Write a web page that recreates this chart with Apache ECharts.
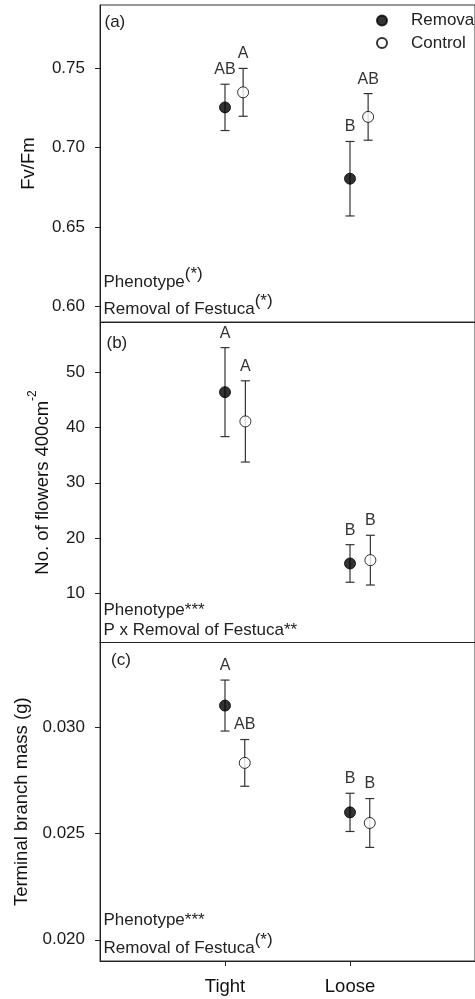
<!DOCTYPE html>
<html><head><meta charset="utf-8">
<script src="https://cdn.jsdelivr.net/npm/echarts@6/dist/echarts.min.js"></script>
<style>html,body{margin:0;padding:0;background:#fff}#c{width:475px;height:999px}</style>
</head><body><div id="c"></div>
<script>
// ---------- data ----------
const categories = ['Tight', 'Loose'];
const seriesNames = ['Removal', 'Control'];

// (a) Fv/Fm
const fvfmRemovalMean = [0.7254, 0.6804];
const fvfmRemovalSE   = [0.0146, 0.0235];
const fvfmControlMean = [0.7349, 0.7194];
const fvfmControlSE   = [0.0151, 0.0147];
const fvfmRemovalLetters = ['AB', 'B'];
const fvfmControlLetters = ['A', 'AB'];
const fvfmTicks = [0.60, 0.65, 0.70, 0.75];

// (b) No. of flowers
const flowerRemovalMean = [46.4, 15.4];
const flowerRemovalSE   = [8.05, 3.4];
const flowerControlMean = [41.1, 16.0];
const flowerControlSE   = [7.35, 4.5];
const flowerRemovalLetters = ['A', 'B'];
const flowerControlLetters = ['A', 'B'];
const flowerTicks = [10, 20, 30, 40, 50];

// (c) Terminal branch mass
const massRemovalMean = [0.03103, 0.0260];
const massRemovalSE   = [0.0012, 0.0009];
const massControlMean = [0.02833, 0.0255];
const massControlSE   = [0.0011, 0.00115];
const massRemovalLetters = ['A', 'B'];
const massControlLetters = ['AB', 'B'];
const massTicks = [0.020, 0.025, 0.030];

// panel texts
const panelLabels = ['(a)', '(b)', '(c)'];
const fvfmNotes   = [['Phenotype', '(*)'], ['Removal of Festuca', '(*)']];
const flowerNotes = [['Phenotype***', ''], ['P x Removal of Festuca**', '']];
const massNotes   = [['Phenotype***', ''], ['Removal of Festuca', '(*)']];

// ---------- layout / style ----------
const FONT = '"Liberation Sans", Arial, Helvetica, sans-serif';
const panels = [
  { top: 5, height: 317, min: 0.59, max: 0.79, dec: 2, offset: 0.145, nameGap: 62,
    name: 'Fv/Fm', ticks: fvfmTicks,
    rm: fvfmRemovalMean, rse: fvfmRemovalSE, cm: fvfmControlMean, cse: fvfmControlSE,
    rl: fvfmRemovalLetters, cl: fvfmControlLetters, notes: fvfmNotes,
    labelPos: [104.5, 22.5], noteBase: [288, 315] },
  { top: 322.5, height: 320, min: 1.1, max: 59, dec: 0, offset: 0.163, nameGap: 48,
    name: '{m|No. of flowers 400cm}{s|-2}', ticks: flowerTicks,
    rm: flowerRemovalMean, rse: flowerRemovalSE, cm: flowerControlMean, cse: flowerControlSE,
    rl: flowerRemovalLetters, cl: flowerControlLetters, notes: flowerNotes,
    labelPos: [106.5, 343.5], noteBase: [616, 636] },
  { top: 642.5, height: 318.5, min: 0.019, max: 0.034, dec: 3, offset: 0.158, nameGap: 68,
    name: 'Terminal branch mass (g)', ticks: massTicks,
    rm: massRemovalMean, rse: massRemovalSE, cm: massControlMean, cse: massControlSE,
    rl: massRemovalLetters, cl: massControlLetters, notes: massNotes,
    labelPos: [111, 660.5], noteBase: [926.5, 954] }
];

const grids = [], xAxes = [], yAxes = [], series = [], graphics = [];

function errRender(letters) {
  return function (params, api) {
    const x = api.value(0), m = api.value(1), se = api.value(2);
    const p = api.coord([x, m + se]);
    const q = api.coord([x, m - se]);
    const st = { stroke: '#333', lineWidth: 1.2 };
    return {
      type: 'group',
      children: [
        { type: 'line', shape: { x1: p[0], y1: p[1], x2: q[0], y2: q[1] }, style: st },
        { type: 'line', shape: { x1: p[0] - 4.5, y1: p[1], x2: p[0] + 4.5, y2: p[1] }, style: st },
        { type: 'line', shape: { x1: q[0] - 4.5, y1: q[1], x2: q[0] + 4.5, y2: q[1] }, style: st },
        { type: 'text', style: { text: letters[params.dataIndex], x: p[0], y: p[1] - 14.5,
          align: 'center', verticalAlign: 'middle', fontSize: 16, fontFamily: FONT, fill: '#333' } }
      ]
    };
  };
}

panels.forEach((P, k) => {
  const isLast = k === panels.length - 1;
  grids.push({ left: 100, width: 380, top: P.top, height: P.height, show: true,
    borderColor: '#333', borderWidth: 1, backgroundColor: 'transparent', containLabel: false });
  xAxes.push({
    type: 'value', gridIndex: k, min: 0, max: 3,
    axisLine: { show: true, onZero: false, lineStyle: { color: '#222', width: 1 } },
    splitLine: { show: false },
    axisTick: { show: isLast, customValues: [1, 2], length: 5, lineStyle: { color: '#222' } },
    axisLabel: { show: isLast, customValues: [1, 2], margin: 16.5,
      formatter: v => categories[Math.round(v) - 1] || '',
      fontSize: 18.5, fontFamily: FONT, color: '#111' }
  });
  yAxes.push({
    type: 'value', gridIndex: k, min: P.min, max: P.max,
    axisLine: { show: true, lineStyle: { color: '#222', width: 1 } },
    splitLine: { show: false },
    axisTick: { show: true, customValues: P.ticks, length: 5, lineStyle: { color: '#222' } },
    axisLabel: { customValues: P.ticks, margin: 15, formatter: v => v.toFixed(P.dec),
      fontSize: 17, fontFamily: FONT, color: '#1a1a1a' },
    name: P.name, nameLocation: 'middle', nameGap: P.nameGap,
    nameTextStyle: { fontSize: 18.5, fontFamily: FONT, color: '#111',
      rich: { m: { fontSize: 18.5, fontFamily: FONT, color: '#111', verticalAlign: 'bottom' },
              s: { fontSize: 12, fontFamily: FONT, color: '#111', verticalAlign: 'bottom', padding: [0, 0, 13, 0] } } }
  });
  const groups = [
    { name: seriesNames[0], mean: P.rm, se: P.rse, letters: P.rl, dx: 0,
      itemStyle: { color: '#000', borderColor: '#000', borderWidth: 1 } },
    { name: seriesNames[1], mean: P.cm, se: P.cse, letters: P.cl, dx: P.offset,
      itemStyle: { color: '#fff', borderColor: '#000', borderWidth: 1 } }
  ];
  groups.forEach(g => {
    const pts = categories.map((c, i) => [i + 1 + g.dx, g.mean[i], g.se[i]]);
    series.push({ type: 'custom', xAxisIndex: k, yAxisIndex: k, z: 2, silent: true,
      renderItem: errRender(g.letters), encode: { x: 0, y: 1 }, data: pts });
    series.push({ type: 'scatter', name: g.name, xAxisIndex: k, yAxisIndex: k, z: 3,
      symbol: 'circle', symbolSize: 11, itemStyle: g.itemStyle,
      data: pts.map(d => [d[0], d[1]]) });
  });
  graphics.push({ type: 'text', left: P.labelPos[0], top: P.labelPos[1] - 9,
    style: { text: panelLabels[k], fontSize: 17, fontFamily: FONT, fill: '#222' } });
  P.notes.forEach((n, j) => {
    const txt = n[1] ? '{m|' + n[0] + '}{s|' + n[1] + '}' : '{m|' + n[0] + '}';
    graphics.push({ type: 'text', x: 103.5, y: P.noteBase[j] + 2.6,
      style: { text: txt, x: 0, y: 0, verticalAlign: 'bottom', align: 'left',
        rich: { m: { fontSize: 17, fontFamily: FONT, fill: '#222', color: '#222', verticalAlign: 'bottom' },
                s: { fontSize: 17, fontFamily: FONT, fill: '#222', color: '#222', verticalAlign: 'bottom', padding: [0, 0, 8, 0] } } } });
  });
});

const chart = echarts.init(document.getElementById('c'), null, { renderer: 'canvas' });
chart.setOption({
  animation: false,
  backgroundColor: '#fff',
  grid: grids, xAxis: xAxes, yAxis: yAxes, series: series, graphic: graphics,
  legend: { data: seriesNames, orient: 'vertical', left: 376, top: 12, padding: 0,
    itemWidth: 10, itemHeight: 10, itemGap: 5.6, icon: 'circle',
    textStyle: { fontSize: 17, fontFamily: FONT, color: '#222', padding: [0, 0, 0, 19] } }
});
</script></body></html>
